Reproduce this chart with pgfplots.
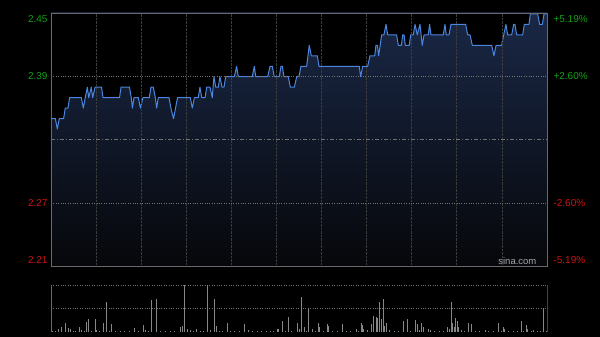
\documentclass[border=0pt]{standalone}
\usepackage{pgfplots}
\pgfplotsset{compat=1.18}
\usepackage{pgfplotstable}
\usepackage{fontspec}
\setmainfont{Liberation Sans}
\definecolor{framec}{RGB}{105,105,105}
\definecolor{vgrid}{RGB}{60,60,60}
\definecolor{hgrid}{RGB}{115,115,115}
\definecolor{cgreen}{RGB}{20,160,20}
\definecolor{cred}{RGB}{205,20,20}
\definecolor{pline}{RGB}{75,135,225}
\definecolor{filltop}{RGB}{26,40,70}
\definecolor{fillbot}{RGB}{6,7,10}
\definecolor{volc}{RGB}{135,135,135}

\pgfplotstableread{
t p
0 2.35
2.9 2.35
4.2 2.34
5.5 2.35
8.4 2.35
9.5 2.36
11.3 2.36
12.4 2.37
20.2 2.37
21.5 2.36
22.8 2.37
24.2 2.38
25.1 2.37
26.8 2.38
27.7 2.37
29.3 2.38
33.6 2.38
34.6 2.37
45.6 2.37
46.6 2.38
52.2 2.38
53.4 2.37
54.2 2.36
55.2 2.37
58.1 2.37
59.5 2.36
61.2 2.37
65.4 2.37
66.5 2.38
68.1 2.38
69.4 2.37
70.3 2.36
71.4 2.37
78.5 2.37
79.8 2.36
81.5 2.35
84.2 2.37
92.7 2.37
94.0 2.36
95.4 2.37
98.0 2.37
99.1 2.38
100.3 2.37
102.5 2.37
103.6 2.38
105.8 2.38
107.3 2.37
108.4 2.39
109.6 2.38
111.3 2.38
112.4 2.39
113.8 2.38
115.1 2.38
116.2 2.39
122.0 2.39
123.5 2.40
124.6 2.39
133.9 2.39
135.3 2.40
136.2 2.39
144.2 2.39
145.7 2.40
147.2 2.40
148.6 2.39
151.9 2.39
153.0 2.40
153.9 2.40
155.0 2.39
157.9 2.39
159.2 2.38
161.9 2.38
163.5 2.39
165.0 2.39
166.3 2.40
170.1 2.40
171.8 2.42
173.2 2.41
177.2 2.41
178.3 2.40
205.1 2.40
206.0 2.39
207.4 2.40
210.7 2.40
212.2 2.41
215.4 2.41
216.2 2.42
217.2 2.42
218.0 2.41
220.0 2.43
221.5 2.43
222.9 2.44
224.0 2.43
229.9 2.43
231.1 2.42
233.1 2.42
234.0 2.43
234.9 2.43
235.7 2.42
238.4 2.42
239.3 2.43
241.0 2.43
242.2 2.44
243.7 2.43
245.5 2.44
247.0 2.42
248.2 2.43
251.0 2.43
251.9 2.44
252.8 2.43
261.0 2.43
262.1 2.44
263.0 2.43
264.8 2.43
266.1 2.44
275.9 2.44
277.2 2.43
278.8 2.43
280.3 2.42
293.2 2.42
294.7 2.41
296.1 2.42
299.8 2.42
301.2 2.43
302.7 2.44
303.8 2.43
306.5 2.43
307.8 2.44
308.7 2.44
309.8 2.43
313.8 2.43
314.9 2.44
318.0 2.44
318.9 2.45
323.8 2.45
325.1 2.44
326.9 2.44
328.0 2.45
330 2.45
}\price

\pgfplotstableread{
t v
1 2
3 3
4.9 7
7.1 11
9.8 20
11.5 8
13.1 6
15 3
16.5 2
18.6 10
20.4 4
22 3
23.8 22
24.8 28
27 3
29.7 28
30.4 4
32 2
34.8 20
36.8 64
38.5 3
40.4 17
43 2
46 3
49 2
52 3
55.4 9
58 2
61.4 15
63.0 4
65 3
67.0 68
69.7 70
70.3 20
73 3
76 2
79 3
82 2
85.8 10
87.0 13
88.5 100
90.3 6
92.5 4
94.5 3
96.3 6
99 2
101 3
103.6 100
106.2 4
108.4 70
109.8 13
112 3
114 2
116.9 20
119 3
122 2
125 3
128.6 17
131.3 4
134 2
137 3
140 2
143 3
146 2
148 3
150.2 6
151.2 6
153.5 23
156 3
157.9 32
160 3
163.5 20
165.0 6
166.3 75
168.3 11
170 3
171.2 50
173.4 6
175.6 3
177.8 20
178.5 10
181 3
183.4 17
184.5 13
187 3
190 2
193.4 17
196 3
199 2
202.7 6
204.5 3
206.0 20
207.1 15
207.8 7
210 4
212.7 17
214.4 34
216.0 31
216.7 29
218.2 64
219.3 27
220.7 71
221.5 13
222.7 20
225 4
228 3
231 2
234.4 23
236.6 27
239 3
242.2 26
243.3 17
244.5 4
246.0 20
247.7 10
250.6 7
252.1 4
255 3
258 2
261 3
263.7 10
264.6 7
265.9 64
266.8 20
268.1 10
268.8 29
269.9 23
271.0 11
272.6 4
275 3
277.6 20
279.2 18
282 3
285 2
288.7 4
291 3
294 2
297.6 20
299 3
300.9 10
301.4 7
304 3
307 2
310 3
312.5 23
314 3
315.8 15
316.5 7
319 3
320.9 4
323 3
325 2
327.5 50
329 3
}\vol

\begin{document}
\begin{tikzpicture}
\fill[black] (0,0) rectangle (600pt,337pt);
% main price panel
\begin{axis}[
  at={(51pt,71pt)}, anchor=south west,
  width=496pt, height=253pt, scale only axis,
  axis on top,
  xmin=0, xmax=330, ymin=2.2091, ymax=2.4509,
  xtick={30,60,...,300}, xticklabels={},
  xmajorgrids, x grid style={densely dotted, color=vgrid, line width=0.8pt},
  ytick={2.2091,2.2694,2.3906,2.4509},
  yticklabels={\textcolor{cred}{\raisebox{5.5pt}[\height][\depth]{2.21}},
               \textcolor{cred}{2.27},
               \textcolor{cgreen}{2.39},
               \textcolor{cgreen}{\raisebox{-6pt}[\height][\depth]{2.45}}},
  ymajorgrids, y grid style={dotted, color=hgrid, line width=0.7pt},
  major tick length=0pt, tick style={draw=none},
  axis line style={draw=framec, line width=0.8pt},
]
\shade[top color=filltop, bottom color=fillbot] (rel axis cs:0,0) rectangle (rel axis cs:1,1);
\addplot[fill=black, draw=none, forget plot]
  table[x=t,y=p]{\price} -- (axis cs:330,2.4509) -- (axis cs:0,2.4509) -- cycle;
\addplot[color=hgrid, line width=0.9pt, dash pattern=on 4pt off 2pt on 1pt off 2pt, forget plot]
  coordinates {(0,2.33) (330,2.33)};
\addplot[color=pline, line width=1pt, mark=none, line join=round] table[x=t,y=p]{\price};
\node[anchor=east, inner sep=0pt, text=gray!70!white, font=\fontsize{9.5}{10}\selectfont]
  at (rel axis cs:0.979,0.018) {sina.com};
\end{axis}
% right percentage labels
\begin{axis}[
  at={(51pt,71pt)}, anchor=south west,
  width=496pt, height=253pt, scale only axis,
  xmin=0, xmax=330, ymin=2.2091, ymax=2.4509,
  xtick=\empty, axis line style={draw=none},
  ytick={2.2091,2.2694,2.3906,2.4509},
  yticklabel pos=right,
  yticklabel style={xshift=3pt},
  yticklabels={\textcolor{cred}{\raisebox{5.5pt}[\height][\depth]{-5.19\%}},
               \textcolor{cred}{-2.60\%},
               \textcolor{cgreen}{+2.60\%},
               \textcolor{cgreen}{\raisebox{-6pt}[\height][\depth]{+5.19\%}}},
  major tick length=0pt, tick style={draw=none},
]
\addplot[draw=none, forget plot] coordinates {(0,2.33) (330,2.33)};
\end{axis}
% volume panel
\begin{axis}[
  at={(51pt,5pt)}, anchor=south west,
  width=496.5pt, height=47pt, scale only axis,
  xmin=0, xmax=330, ymin=0, ymax=100,
  xtick=\empty, ytick={50,100}, yticklabels={},
  ymajorgrids, y grid style={dotted, color=hgrid, line width=0.7pt},
  major tick length=0pt, tick style={draw=none},
  axis line style={draw=none},
]
\addplot[ycomb, color=volc, line width=0.7pt, mark=none] table[x=t,y=v]{\vol};
\draw[framec, line width=0.8pt] (rel axis cs:0,1) -- (rel axis cs:0,0) -- (rel axis cs:1,0) -- (rel axis cs:1,1);
\end{axis}
\end{tikzpicture}
\end{document}
